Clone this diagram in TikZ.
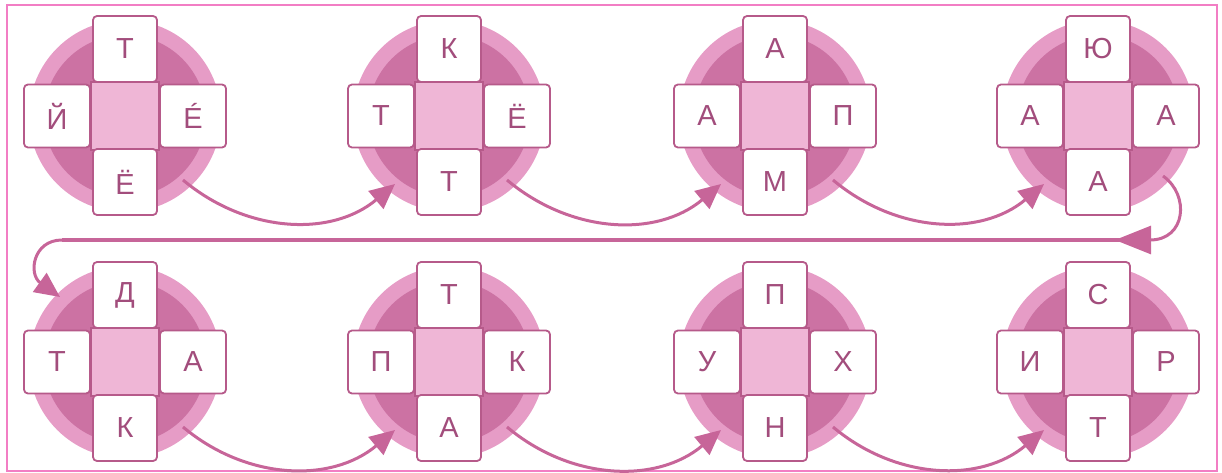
\documentclass[tikz,border=0pt]{standalone}
\usepackage{fontspec}
\setmainfont{Liberation Sans}
\usetikzlibrary{arrows.meta,calc}
\definecolor{ringc}{HTML}{E69CC6}
\definecolor{innerc}{HTML}{CC72A3}
\definecolor{centc}{HTML}{EFB6D6}
\definecolor{tileb}{HTML}{B65A8A}
\definecolor{letc}{HTML}{A24D7C}
\definecolor{arrc}{HTML}{C76599}
\definecolor{framec}{HTML}{F27EC4}
\tikzset{
  tilebox/.style={draw=tileb, line width=1.8pt, fill=white, rounded corners=4pt,
    inner sep=0pt, text=letc, font=\fontsize{29}{29}\selectfont},
  vtile/.style={tilebox, minimum width=64pt, minimum height=66pt},
  htile/.style={tilebox, minimum width=66pt, minimum height=63pt},
  centsq/.style={draw=tileb, line width=1.8pt, fill=centc, minimum size=68pt, inner sep=0pt},
  conn/.style={draw=arrc, line width=3pt, -{Triangle[length=25pt,width=23pt]}},
  bigconn/.style={draw=arrc, line width=3pt, -{Triangle[length=36pt,width=28pt]}},
  longline/.style={draw=arrc, line width=4pt},
}
% name, x, y, top, left, right, bottom
\newcommand\crossdisc[7]{%
  \coordinate (#1) at (#2,#3);
  \fill[ringc] (#1) circle (96pt);
  \fill[innerc] (#1) circle (81pt);
  \node[centsq] (#1c) at (#1) {};
  \node[vtile] (#1t) at ($(#1)+(0,67)$) {#4};
  \node[htile] (#1l) at ($(#1)+(-68,0)$) {#5};
  \node[htile] (#1r) at ($(#1)+(68,0)$) {#6};
  \node[vtile] (#1b) at ($(#1)+(0,-66)$) {#7};
}
\begin{document}
\begin{tikzpicture}[x=1pt,y=1pt]
\useasboundingbox (0,0) rectangle (1222,-473);
\draw[framec, line width=1.5pt] (7,-5) rectangle (1217,-471);

\crossdisc{d1}{125}{-116}{Т}{Й}{É}{Ё}
\crossdisc{d2}{449}{-116}{К}{Т}{Ё}{Т}
\crossdisc{d3}{775}{-116}{А}{А}{П}{М}
\crossdisc{d4}{1098}{-116}{Ю}{А}{А}{А}
\crossdisc{d5}{125}{-362}{Д}{Т}{А}{К}
\crossdisc{d6}{449}{-362}{Т}{П}{К}{А}
\crossdisc{d7}{775}{-362}{П}{У}{Х}{Н}
\crossdisc{d8}{1098}{-362}{С}{И}{Р}{Т}

% connectors row 1
\draw[conn] ($(d1)+(58,-64)$) to[out=-40,in=-140] ($(d2)+(-54,-68)$);
\draw[conn] ($(d2)+(58,-64)$) to[out=-40,in=-140] ($(d3)+(-54,-68)$);
\draw[conn] ($(d3)+(58,-64)$) to[out=-40,in=-140] ($(d4)+(-54,-68)$);
% connectors row 2
\draw[conn] ($(d5)+(58,-65)$) to[out=-40,in=-140] ($(d6)+(-54,-68)$);
\draw[conn] ($(d6)+(58,-65)$) to[out=-40,in=-140] ($(d7)+(-54,-68)$);
\draw[conn] ($(d7)+(58,-65)$) to[out=-40,in=-140] ($(d8)+(-54,-68)$);

% return path
\coordinate (hookend) at (1150,-240);
\coordinate (hooktip) at (1115,-240);
\coordinate (corner) at (62,-240);
\draw[bigconn] ($(d4)+(65,-60)$) .. controls (1190,-195) and (1186,-240) .. (hookend) -- (hooktip);
\draw[longline] (hookend) -- (corner);
\draw[conn] (corner) .. controls (33,-240) and (28,-274) .. ($(d5)+(-65,65)$);
\end{tikzpicture}
\end{document}
